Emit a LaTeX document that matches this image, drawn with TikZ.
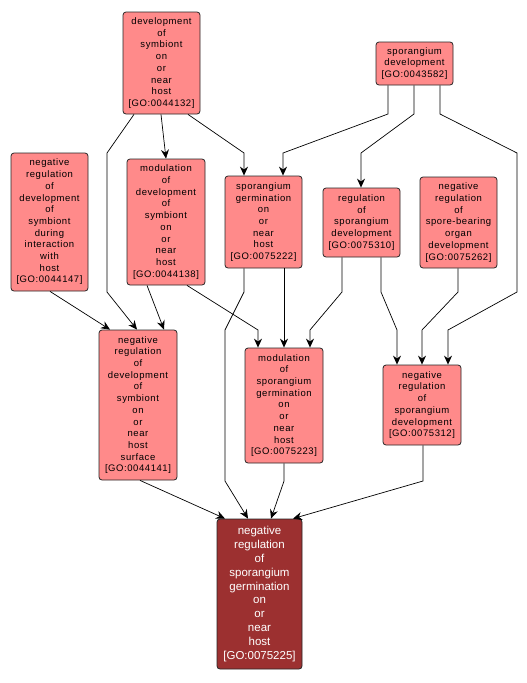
\documentclass[tikz,border=0pt]{standalone}
\usepackage{fontspec}
\usetikzlibrary{arrows.meta}
\newfontfamily\nodefont[LetterSpace=6]{Liberation Sans}
\newfontfamily\finalfont{Liberation Sans}
\definecolor{termfill}{RGB}{255,138,138}
\definecolor{rootfill}{RGB}{156,48,48}

\begin{document}
\begin{tikzpicture}[
  x=1pt, y=-1pt,
  term/.style={draw=black!85, fill=termfill, rounded corners=3pt,
               line width=0.8pt, inner sep=0pt, align=center,
               minimum width=77pt,
               font=\nodefont\fontsize{9.5}{11.7}\selectfont},
  root/.style={term, fill=rootfill, text=white, minimum width=85pt,
               font=\finalfont\fontsize{11.5}{13.9}\selectfont},
  edge/.style={-{Stealth[length=9pt,width=8pt,inset=3pt]},
               line width=0.7pt}
]
\useasboundingbox (0,0) rectangle (527,683);

% GO terms
\node[term, minimum height=102pt] (devsym) at (161.5, 63)
  {development\\of\\symbiont\\on\\or\\near\\host\\{[}GO:0044132{]}};
\node[term, minimum height=43pt] (spdev) at (414.5, 63.5)
  {sporangium\\development\\{[}GO:0043582{]}};
\node[term, minimum height=138pt] (negdevint) at (49.5, 222)
  {negative\\regulation\\of\\development\\of\\symbiont\\during\\interaction\\with\\host\\{[}GO:0044147{]}};
\node[term, minimum width=78pt, minimum height=126pt] (moddevsym) at (166, 222)
  {modulation\\of\\development\\of\\symbiont\\on\\or\\near\\host\\{[}GO:0044138{]}};
\node[term, minimum height=92pt] (spgerm) at (263.5, 222)
  {sporangium\\germination\\on\\or\\near\\host\\{[}GO:0075222{]}};
\node[term, minimum height=69pt] (regspdev) at (361.5, 222.5)
  {regulation\\of\\sporangium\\development\\{[}GO:0075310{]}};
\node[term, minimum height=91pt] (negspore) at (458.5, 222.5)
  {negative\\regulation\\of\\spore-bearing\\organ\\development\\{[}GO:0075262{]}};
\node[term, minimum width=78pt, minimum height=150pt] (negdevsurf) at (138, 405)
  {negative\\regulation\\of\\development\\of\\symbiont\\on\\or\\near\\host\\surface\\{[}GO:0044141{]}};
\node[term, minimum width=78pt, minimum height=115pt] (modspgerm) at (284, 405.5)
  {modulation\\of\\sporangium\\germination\\on\\or\\near\\host\\{[}GO:0075223{]}};
\node[term, minimum width=78pt, minimum height=80pt] (negspdev) at (422, 405)
  {negative\\regulation\\of\\sporangium\\development\\{[}GO:0075312{]}};
\node[root, minimum height=150pt] (negspgerm) at (259.5, 594)
  {negative\\regulation\\of\\sporangium\\germination\\on\\or\\near\\host\\{[}GO:0075225{]}};

% is_a / regulates links
\draw[edge] (devsym.south -| 161,0) -- (moddevsym.north -| 166,0);
\draw[edge] (devsym.south -| 188,0) -- (244,153) -- (spgerm.north -| 244,0);
\draw[edge] (devsym.south -| 134,0) -- (107,153) -- (107,292)
  -- (negdevsurf.north -| 137,0);
\draw[edge] (negdevint.south -| 50,0) -- (negdevsurf.north -| 110,0);
\draw[edge] (moddevsym.south -| 147,0) -- (negdevsurf.north -| 164,0);
\draw[edge] (moddevsym.south -| 187,0) -- (258,330) -- (modspgerm.north -| 258,0);
\draw[edge] (spgerm.south -| 284,0) -- (modspgerm.north -| 284,0);
\draw[edge] (spgerm.south -| 244,0) -- (244,292) -- (225,330) -- (225,481)
  -- (negspgerm.north -| 248,0);
\draw[edge] (spdev.south -| 388,0) -- (388,114) -- (283,153)
  -- (spgerm.north -| 283,0);
\draw[edge] (spdev.south -| 414,0) -- (414,114) -- (361,153)
  -- (regspdev.north -| 361,0);
\draw[edge] (spdev.south -| 440,0) -- (440,114) -- (517,153) -- (517,292)
  -- (448,330) -- (negspdev.north -| 448,0);
\draw[edge] (regspdev.south -| 342,0) -- (342,292) -- (310,330)
  -- (modspgerm.north -| 310,0);
\draw[edge] (regspdev.south -| 381,0) -- (381,292) -- (397,330)
  -- (negspdev.north -| 397,0);
\draw[edge] (negspore.south -| 458,0) -- (458,292) -- (422,330)
  -- (negspdev.north -| 422,0);
\draw[edge] (negdevsurf.south -| 140,0) -- (negspgerm.north -| 225,0);
\draw[edge] (modspgerm.south -| 284,0) -- (284,481) -- (negspgerm.north -| 271,0);
\draw[edge] (negspdev.south -| 423,0) -- (423,481) -- (negspgerm.north -| 293,0);

\end{tikzpicture}
\end{document}
